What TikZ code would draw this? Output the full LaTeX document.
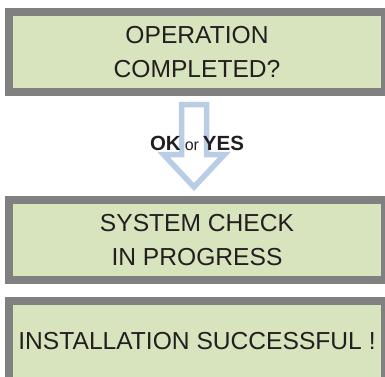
\documentclass[tikz,border=0pt]{standalone}
\usepackage{fontspec}
\setmainfont{Liberation Sans}
\usetikzlibrary{positioning}

\definecolor{lcdgreen}{HTML}{D7E4BD}
\definecolor{lcdframe}{HTML}{808080}
\definecolor{arrowblue}{HTML}{B9CDE5}
\definecolor{lcdtext}{HTML}{231F20}

\tikzset{
	screen/.style={draw=lcdframe, line width=8pt, fill=lcdgreen,
		minimum width=376pt, minimum height=80pt, inner sep=0pt,
		align=center, text=lcdtext, font=\fontsize{24.6}{34}\selectfont},
	hollowarrow/.style={draw=arrowblue, line width=5.5pt, fill=white},
}

\begin{document}
\begin{tikzpicture}[x=1pt, y=-1pt]

	% ---- canvas

	\useasboundingbox (0,0) rectangle (385,376);
	\clip (0,0) rectangle (385,376);

	% ---- screens

	\node[screen] (question) at (197,52) {OPERATION\\COMPLETED?};
	\node[screen, below=100pt of question] (check) {SYSTEM CHECK\\IN PROGRESS};
	\node[screen, below=13pt of check] (success) {INSTALLATION SUCCESSFUL !};

	% ---- arrow points

	\def\shaftL{181.5}
	\def\shaftR{206.5}
	\def\headL{163.5}
	\def\headR{224.5}

	\coordinate (T1) at (\shaftL,104.5);
	\coordinate (T2) at (\shaftR,104.5);
	\coordinate (S1) at (\shaftR,154.5);
	\coordinate (S2) at (\headR,154.5);
	\coordinate (tip) at (194,187);
	\coordinate (S3) at (\headL,154.5);
	\coordinate (S4) at (\shaftL,154.5);

	% ---- arrow

	\draw[hollowarrow] (T1) -- (T2) -- (S1) -- (S2) -- (tip) -- (S3) -- (S4) -- cycle;

	% ---- answer label

	\node[anchor=base, text=lcdtext, inner sep=0pt] (answer) at (197,150)
	{\fontsize{20.5}{20.5}\selectfont\bfseries OK\hspace{4pt}\fontsize{16}{16}\selectfont\mdseries or\hspace{4pt}\fontsize{20.5}{20.5}\selectfont\bfseries YES};

\end{tikzpicture}
\end{document}
